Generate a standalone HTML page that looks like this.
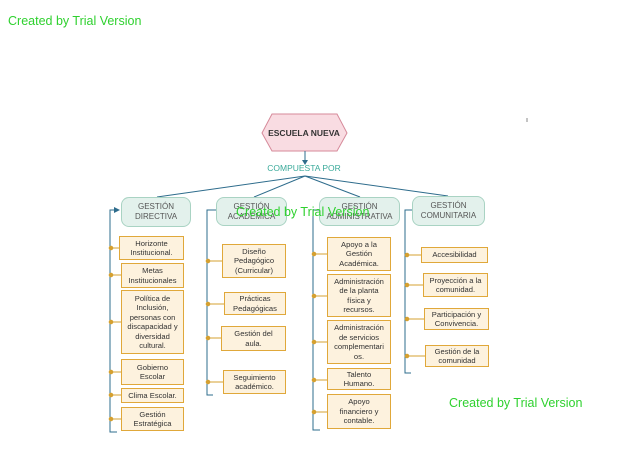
<!DOCTYPE html>
<html><head><meta charset="utf-8"><style>
body{margin:0;width:638px;height:452px;background:#fff;position:relative;overflow:hidden;font-family:"Liberation Sans",sans-serif}
.h{position:absolute;background:#e3f1ec;border:1px solid #a9d3c3;border-radius:8px;color:#555;font-size:8px;text-align:center;display:flex;align-items:center;justify-content:center;line-height:10px;box-sizing:border-box}
.b{position:absolute;background:#fdf2de;border:1px solid #e0a83a;color:#333;font-size:7.6px;text-align:center;display:flex;align-items:center;justify-content:center;line-height:9.5px;box-sizing:border-box}
.w{position:absolute;color:#2fd12f;font-size:12.5px;white-space:nowrap}
svg{position:absolute;left:0;top:0}
</style></head><body>
<svg width="638" height="452">
<polygon points="262,133 272,114 337,114 347,133 337,151 272,151" fill="#f9dce2" stroke="#d68a9a"/>
<g stroke="#2e6c8c" stroke-width="1" fill="none">
<line x1="305" y1="151" x2="305" y2="162"/>
<line x1="305" y1="176" x2="157" y2="197"/>
<line x1="305" y1="176" x2="254" y2="197"/>
<line x1="305" y1="176" x2="360" y2="197"/>
<line x1="305" y1="176" x2="448" y2="196"/>
<polyline points="114,210 110,210 110,432 117,432"/>
<polyline points="216,210 207,210 207,395 213,395"/>
<polyline points="319,210 313,210 313,430 320,430"/>
<polyline points="412,210 405,210 405,373 411,373"/>
</g>
<g fill="#2e6c8c"><polygon points="302,160 308,160 305,165"/><polygon points="120,210 114,207 114,213"/></g>
<g stroke="#d5a030" fill="#d5a030">
<line x1="111" y1="248" x2="119" y2="248"/><circle cx="111" cy="248" r="1.8"/>
<line x1="111" y1="275" x2="121" y2="275"/><circle cx="111" cy="275" r="1.8"/>
<line x1="111" y1="322" x2="121" y2="322"/><circle cx="111" cy="322" r="1.8"/>
<line x1="111" y1="372" x2="121" y2="372"/><circle cx="111" cy="372" r="1.8"/>
<line x1="111" y1="395" x2="121" y2="395"/><circle cx="111" cy="395" r="1.8"/>
<line x1="111" y1="419" x2="121" y2="419"/><circle cx="111" cy="419" r="1.8"/>
<line x1="208" y1="261" x2="222" y2="261"/><circle cx="208" cy="261" r="1.8"/>
<line x1="208" y1="304" x2="224" y2="304"/><circle cx="208" cy="304" r="1.8"/>
<line x1="208" y1="338" x2="221" y2="338"/><circle cx="208" cy="338" r="1.8"/>
<line x1="208" y1="382" x2="223" y2="382"/><circle cx="208" cy="382" r="1.8"/>
<line x1="314" y1="254" x2="327" y2="254"/><circle cx="314" cy="254" r="1.8"/>
<line x1="314" y1="296" x2="327" y2="296"/><circle cx="314" cy="296" r="1.8"/>
<line x1="314" y1="342" x2="327" y2="342"/><circle cx="314" cy="342" r="1.8"/>
<line x1="314" y1="380" x2="327" y2="380"/><circle cx="314" cy="380" r="1.8"/>
<line x1="314" y1="412" x2="327" y2="412"/><circle cx="314" cy="412" r="1.8"/>
<line x1="407" y1="255" x2="421" y2="255"/><circle cx="407" cy="255" r="1.8"/>
<line x1="407" y1="285" x2="423" y2="285"/><circle cx="407" cy="285" r="1.8"/>
<line x1="407" y1="319" x2="424" y2="319"/><circle cx="407" cy="319" r="1.8"/>
<line x1="407" y1="356" x2="425" y2="356"/><circle cx="407" cy="356" r="1.8"/>
</g>
<text x="304" y="136" font-size="8.5" font-weight="bold" text-anchor="middle" fill="#333" font-family="Liberation Sans">ESCUELA NUEVA</text>
<text x="304" y="171" font-size="8.5" text-anchor="middle" fill="#3aaa9a" font-family="Liberation Sans">COMPUESTA POR</text>
<line x1="527" y1="118" x2="527" y2="122" stroke="#888"/>
</svg>
<div class="h" style="left:121px;top:197px;width:70px;height:30px">GESTIÓN<br>DIRECTIVA</div>
<div class="h" style="left:216px;top:197px;width:71px;height:29px">GESTIÓN<br>ACADÉMICA</div>
<div class="h" style="left:319px;top:197px;width:81px;height:29px">GESTIÓN<br>ADMINISTRATIVA</div>
<div class="h" style="left:412px;top:196px;width:73px;height:30px">GESTIÓN<br>COMUNITARIA</div>

<div class="b" style="left:119px;top:236px;width:65px;height:24px">Horizonte<br>Institucional.</div>
<div class="b" style="left:121px;top:263px;width:63px;height:25px">Metas<br>Institucionales</div>
<div class="b" style="left:121px;top:290px;width:63px;height:64px">Política de<br>Inclusión,<br>personas con<br>discapacidad y<br>diversidad<br>cultural.</div>
<div class="b" style="left:121px;top:359px;width:63px;height:26px">Gobierno<br>Escolar</div>
<div class="b" style="left:121px;top:388px;width:63px;height:15px">Clima Escolar.</div>
<div class="b" style="left:121px;top:407px;width:63px;height:24px">Gestión<br>Estratégica</div>

<div class="b" style="left:222px;top:244px;width:64px;height:34px">Diseño<br>Pedagógico<br>(Curricular)</div>
<div class="b" style="left:224px;top:292px;width:62px;height:23px">Prácticas<br>Pedagógicas</div>
<div class="b" style="left:221px;top:326px;width:65px;height:25px">Gestión del<br>aula.</div>
<div class="b" style="left:223px;top:370px;width:63px;height:24px">Seguimiento<br>académico.</div>

<div class="b" style="left:327px;top:237px;width:64px;height:34px">Apoyo a la<br>Gestión<br>Académica.</div>
<div class="b" style="left:327px;top:274px;width:64px;height:43px">Administración<br>de la planta<br>física y<br>recursos.</div>
<div class="b" style="left:327px;top:320px;width:64px;height:44px">Administración<br>de servicios<br>complementari<br>os.</div>
<div class="b" style="left:327px;top:368px;width:64px;height:22px">Talento<br>Humano.</div>
<div class="b" style="left:327px;top:394px;width:64px;height:35px">Apoyo<br>financiero y<br>contable.</div>

<div class="b" style="left:421px;top:247px;width:67px;height:16px">Accesibilidad</div>
<div class="b" style="left:423px;top:273px;width:65px;height:24px">Proyección a la<br>comunidad.</div>
<div class="b" style="left:424px;top:308px;width:65px;height:22px">Participación y<br>Convivencia.</div>
<div class="b" style="left:425px;top:345px;width:64px;height:22px">Gestión de la<br>comunidad</div>

<div class="w" style="left:8px;top:14px">Created by Trial Version</div>
<div class="w" style="left:236px;top:205px">Created by Trial Version</div>
<div class="w" style="left:449px;top:396px">Created by Trial Version</div>
</body></html>
